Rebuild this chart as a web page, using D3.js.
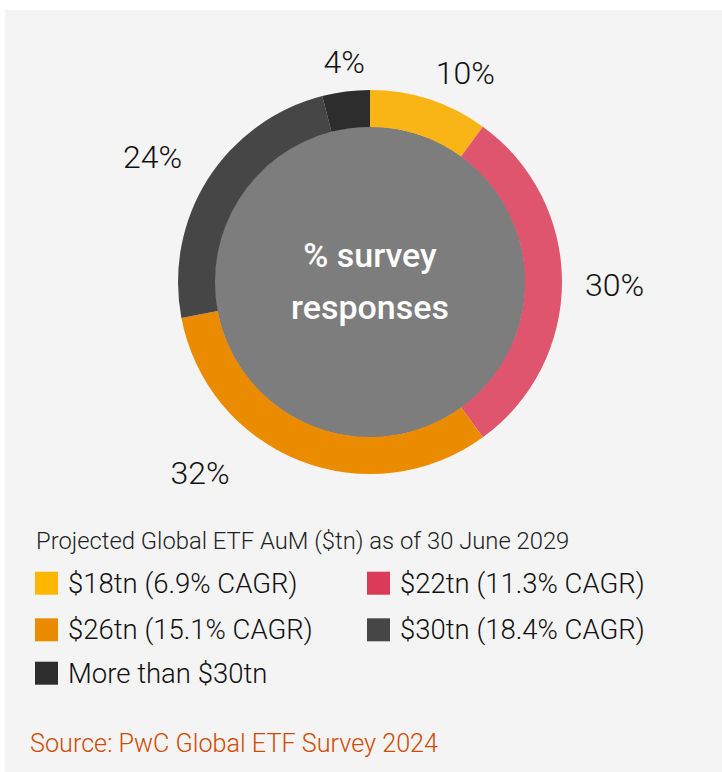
<!DOCTYPE html>
<html>
<head>
<meta charset="utf-8">
<script src="https://cdn.jsdelivr.net/npm/d3@7"></script>
<style>
  html, body { margin: 0; padding: 0; background: #ffffff; }
  svg { display: block; }
  text { font-family: Roboto, "Liberation Sans", sans-serif; }
</style>
</head>
<body>
<svg id="chart" width="722" height="772"></svg>
<script>
// Survey answers: projected global ETF assets under management by 30 June 2029
const categories = [
  "$18tn (6.9% CAGR)",
  "$22tn (11.3% CAGR)",
  "$26tn (15.1% CAGR)",
  "$30tn (18.4% CAGR)",
  "More than $30tn"
];
const shares = [10, 30, 32, 24, 4];
const percentLabels = ["10%", "30%", "32%", "24%", "4%"];
const sliceColors = ["#F9B515", "#DE556D", "#EB8C00", "#464646", "#2D2D2D"];
const swatchColors = ["#FFB600", "#DB3A58", "#EB8C00", "#464646", "#2D2D2D"];

const legendTitle = "Projected Global ETF AuM ($tn) as of 30 June 2029";
const centerLines = ["% survey", "responses"];
const sourceNote = "Source: PwC Global ETF Survey 2024";

// layout
const W = 722, H = 772;
const cx = 370, cy = 282;
const outerR = 192, innerR = 155;
const labelR = 213;
// manual placement tweaks for labels that would otherwise sit awkwardly
const labelNudge = [[0, 4.5], [2, 3], [-62, -19], [-8, 0], [1, 2.5]];

const svg = d3.select("#chart");

// panel background
svg.append("rect")
  .attr("x", 5).attr("y", 10)
  .attr("width", W - 5).attr("height", H - 10)
  .attr("fill", "#F4F4F4");

const pie = d3.pie().sort(null).value(d => d)(shares);
const arc = d3.arc().innerRadius(innerR).outerRadius(outerR);

const g = svg.append("g").attr("transform", `translate(${cx},${cy})`);

// inner disc
g.append("circle").attr("r", innerR + 0.5).attr("fill", "#7D7D7D");

g.selectAll("path.slice")
  .data(pie)
  .join("path")
  .attr("class", "slice")
  .attr("d", arc)
  .attr("fill", (d, i) => sliceColors[i]);

// centre caption
g.selectAll("text.center")
  .data(centerLines)
  .join("text")
  .attr("class", "center")
  .attr("x", 0)
  .attr("y", (d, i) => -15 + i * 52)
  .attr("text-anchor", "middle")
  .attr("fill", "#ffffff")
  .attr("font-size", 34)
  .attr("font-weight", 500)
  .text(d => d);

// percentage labels placed outside the ring, anchored by quadrant
const fsLabel = 32;
const capH = fsLabel * 0.71;
g.selectAll("text.pct")
  .data(pie)
  .join("text")
  .attr("class", "pct")
  .each(function (d, i) {
    const a = (d.startAngle + d.endAngle) / 2;
    const s = Math.sin(a), c = Math.cos(a);
    let x = s * labelR, y = -c * labelR;
    let anchor = "middle";
    if (s > 0.2) anchor = "start";
    else if (s < -0.2) anchor = "end";
    let base;
    if (c > 0.2) base = y;               // label sits above the anchor point
    else if (c < -0.2) base = y + capH;  // label hangs below
    else base = y + capH / 2;            // vertically centred
    d3.select(this)
      .attr("x", x + labelNudge[i][0])
      .attr("y", base + labelNudge[i][1])
      .attr("text-anchor", anchor);
  })
  .attr("fill", "#111111")
  .attr("font-size", fsLabel)
  .attr("font-weight", 300)
  .text((d, i) => percentLabels[i]);

// legend
svg.append("text")
  .attr("x", 36).attr("y", 549)
  .attr("fill", "#222222")
  .attr("font-size", 23.8)
  .attr("font-weight", 300)
  .text(legendTitle);

const col = d3.scaleOrdinal().domain([0, 1]).range([35, 367]);
const row = d3.scaleOrdinal().domain([0, 1, 2]).range([571.7, 618.3, 661.7]);

const items = svg.selectAll("g.item")
  .data(categories)
  .join("g")
  .attr("class", "item")
  .attr("transform", (d, i) => `translate(${col(i % 2)},${row(Math.floor(i / 2))})`);

items.append("rect")
  .attr("width", 23).attr("height", 23)
  .attr("fill", (d, i) => swatchColors[i]);

items.append("text")
  .attr("x", 33).attr("y", 21)
  .attr("fill", "#111111")
  .attr("font-size", 27.5)
  .attr("font-weight", 300)
  .text(d => d);

svg.append("text")
  .attr("x", 30).attr("y", 752)
  .attr("fill", "#D04A02")
  .attr("font-size", 25.2)
  .attr("font-weight", 300)
  .text(sourceNote);
</script>
</body>
</html>
